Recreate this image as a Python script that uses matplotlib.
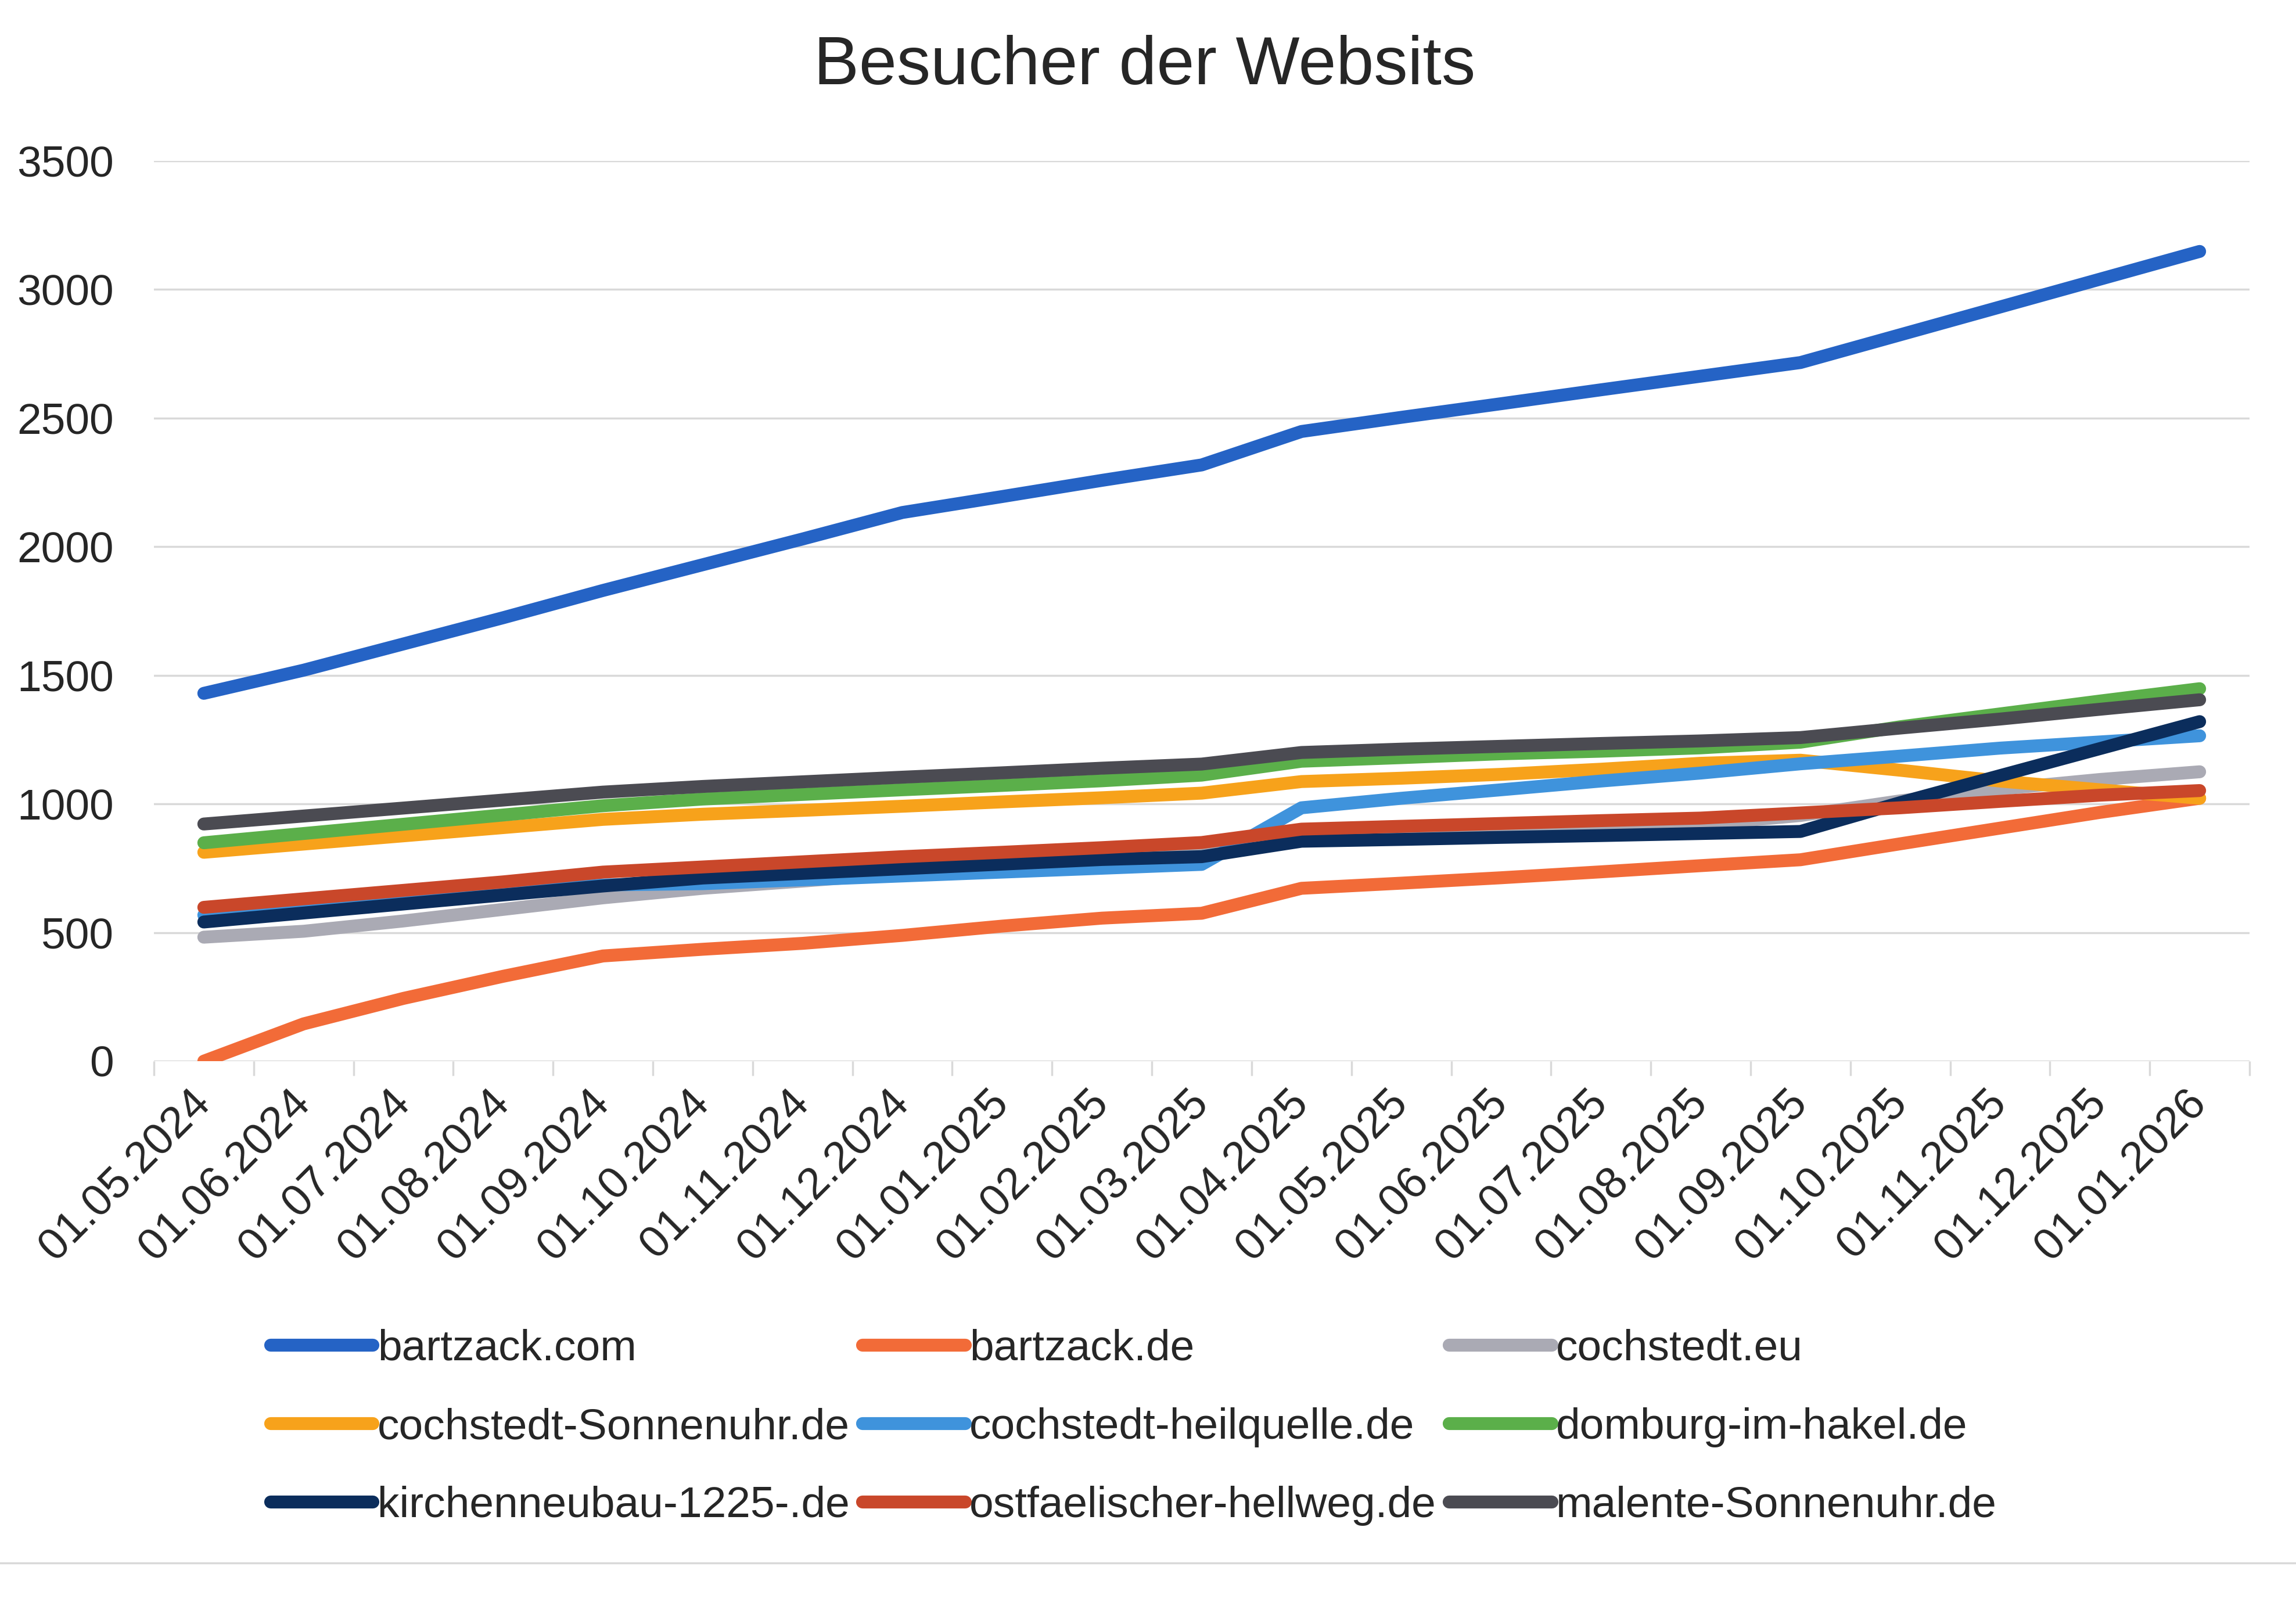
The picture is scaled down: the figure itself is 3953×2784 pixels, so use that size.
import matplotlib
matplotlib.use("Agg")
import matplotlib.pyplot as plt
from matplotlib.lines import Line2D
import numpy as np

plt.rcParams['font.family'] = ['Liberation Sans', 'DejaVu Sans']

dates = ['01.05.2024', '01.06.2024', '01.07.2024', '01.08.2024', '01.09.2024',
         '01.10.2024', '01.11.2024', '01.12.2024', '01.01.2025', '01.02.2025',
         '01.03.2025', '01.04.2025', '01.05.2025', '01.06.2025', '01.07.2025',
         '01.08.2025', '01.09.2025', '01.10.2025', '01.11.2025', '01.12.2025',
         '01.01.2026']

bartzack_com = [1430, 1520, 1622, 1724, 1830, 1930, 2030, 2133, 2195, 2258, 2318,
                2448, 2503, 2556, 2610, 2663, 2716, 2824, 2932, 3040, 3148]
bartzack_de = [0, 145, 244, 330, 409, 435, 458, 489, 525, 556, 575,
               672, 692, 713, 736, 760, 783, 845, 906, 967, 1022]
cochstedt_eu = [482, 505, 545, 590, 635, 672, 700, 730, 760, 785, 810,
                860, 875, 890, 905, 920, 955, 1012, 1058, 1095, 1125]
cochstedt_sonnenuhr = [812, 844, 876, 908, 940, 960, 975, 991, 1008, 1024, 1042,
                       1087, 1100, 1115, 1135, 1158, 1170, 1131, 1089, 1055, 1022]
cochstedt_heilquelle = [568, 598, 628, 658, 685, 690, 705, 720, 735, 750, 765,
                        985, 1022, 1055, 1089, 1120, 1156, 1186, 1217, 1241, 1265]
domburg = [849, 885, 921, 957, 993, 1019, 1037, 1055, 1072, 1090, 1112,
           1166, 1180, 1195, 1205, 1218, 1240, 1300, 1350, 1400, 1448]
kirchenneubau = [541, 576, 611, 646, 681, 712, 730, 748, 766, 784, 795,
                 855, 862, 870, 877, 885, 893, 1005, 1110, 1215, 1320]
ostfaelischer = [598, 631, 664, 697, 735, 755, 775, 795, 812, 830, 850,
                 902, 913, 924, 935, 945, 965, 985, 1010, 1034, 1052]
malente = [922, 953, 984, 1015, 1046, 1068, 1086, 1104, 1121, 1139, 1155,
           1200, 1213, 1224, 1235, 1245, 1258, 1295, 1330, 1368, 1405]

series_names = ['bartzack.com', 'bartzack.de', 'cochstedt.eu', 'cochstedt-Sonnenuhr.de',
                'cochstedt-heilquelle.de', 'domburg-im-hakel.de', 'kirchenneubau-1225-.de',
                'ostfaelischer-hellweg.de', 'malente-Sonnenuhr.de']
series_values = [bartzack_com, bartzack_de, cochstedt_eu, cochstedt_sonnenuhr,
                 cochstedt_heilquelle, domburg, kirchenneubau, ostfaelischer, malente]
colors = ['#2563C5', '#F26B38', '#AAAAB4', '#F7A21B', '#3F93DC', '#5BAF4A',
          '#0B2D5C', '#C9472A', '#4B4B52']

W, H = 3953, 2784
fig = plt.figure(figsize=(W / 100, H / 100), dpi=100)
ax = fig.add_axes([265 / W, 1 - 1827 / H, (3873 - 265) / W, (1827 - 277) / H])

x = np.arange(len(dates))
handles = []
for name, vals, col in zip(series_names, series_values, colors):
    h, = ax.plot(x, vals, color=col, lw=16, solid_capstyle='round',
                 solid_joinstyle='round', label=name)
    handles.append(h)

ax.set_xlim(-0.5, len(dates) - 0.5)
ax.set_ylim(0, 3500)
ax.set_yticks(np.arange(0, 3501, 500))
ax.yaxis.grid(True, color='#D9D9D9', lw=2.5)
ax.set_axisbelow(True)
for s in ax.spines.values():
    s.set_visible(False)

ax.tick_params(axis='y', length=0, pad=50, labelsize=54, labelcolor='#262626')
ax.set_xticks(x)
ax.set_xticklabels(dates, rotation=45, ha='right', va='center', rotation_mode='anchor')
ax.tick_params(axis='x', which='major', length=0, pad=44, labelsize=55, labelcolor='#262626')
ax.set_xticks(np.arange(-0.5, len(dates), 1), minor=True)
ax.tick_params(axis='x', which='minor', length=18, width=2.5, color='#D9D9D9')

fig.text(0.4986, 0.959, 'Besucher der Websits', ha='center', va='center',
         fontsize=84, color='#262626')

order = [0, 3, 6, 1, 4, 7, 2, 5, 8]
leg = fig.legend([handles[i] for i in order], [series_names[i] for i in order],
                 ncol=3, loc='upper left', bbox_to_anchor=(466 / W, 1 - 2288 / H),
                 frameon=False, fontsize=54, handlelength=2.35, handletextpad=0.1,
                 columnspacing=0.3, labelspacing=0.88, borderpad=0, borderaxespad=0)
for t in leg.get_texts():
    t.set_color('#262626')

fig.add_artist(Line2D([0, 1], [1 - 2691 / H, 1 - 2691 / H], transform=fig.transFigure,
                      color='#D9D9D9', lw=2.5))

fig.savefig('out.png', dpi=100, facecolor='white')
